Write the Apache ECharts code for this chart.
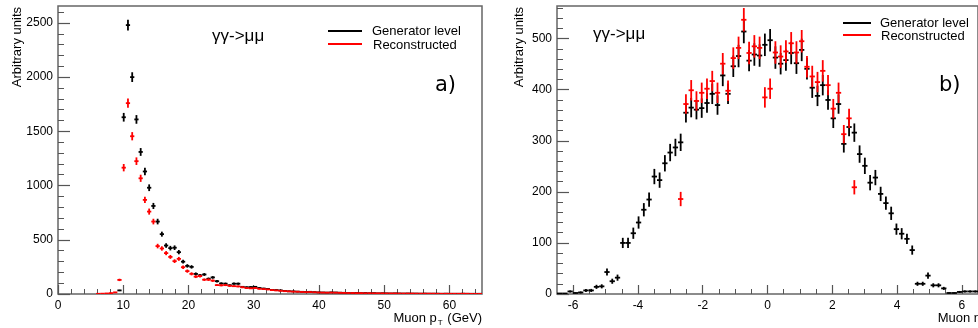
<!DOCTYPE html>
<html>
<head>
<meta charset="utf-8">
<script src="https://cdn.jsdelivr.net/npm/echarts@6/dist/echarts.min.js"></script>
<style>
html,body{margin:0;padding:0;background:#fff;}
#c{width:978px;height:328px;}
</style>
</head>
<body>
<div id="c"></div>
<script>
// ---------- binning ----------
const ptBinLow = 0, ptBinWidth = 0.65;      // 100 bins, 0..65 GeV
const etaBinLow = -6.5, etaBinWidth = 0.1625; // 80 bins, -6.5..6.5

// ---------- panel a: muon pT ----------
const ptGen = [
  0,0,0,0,0,0,0,0,0,0,
  0,0,0,0,33,1630,2480,2000,1610,1310,
  1130,980,812,668,552,447,423,427,386,298,
  259,250,185,172,180,140,153,118,97,95,
  80,95,95,66,62,64,66,55,50,46,
  38,36,33,28,25,24,22,20,18,20,
  17,15,14,13,15,14,12,11,10,9,
  10,8,9,7,8,6,7,6,5,6,
  5,4,5,4,4,3,4,3,3,3,
  2,3,2,2,2,3,2,2,2,2
];
const ptGenErr = [
  0,0,0,0,0,0,0,0,0,0,
  0,0,0,0,6,40,50,45,40,36,
  34,31,28,26,23,21,21,21,20,17,
  16,16,14,13,13,12,12,11,10,10,
  9,10,10,8,8,8,8,7,7,7,
  6,6,6,5,5,5,5,4,4,4,
  4,4,4,4,4,4,3,3,3,3,
  3,3,3,3,3,2,3,2,2,2,
  2,2,2,2,2,2,2,2,2,2,
  1,2,1,1,1,2,1,1,1,1
];
const ptReco = [
  0,0,0,0,0,0,0,0,0,2,
  3,5,8,15,130,1165,1760,1455,1225,1067,
  868,760,668,442,420,377,342,303,324,247,
  211,186,160,165,132,132,123,82,80,82,
  76,72,70,62,55,52,55,48,45,42,
  36,33,30,26,24,22,21,19,17,18,
  16,14,13,12,13,12,11,10,9,9,
  8,8,7,7,6,6,6,5,5,5,
  4,4,4,4,3,3,3,3,3,2,
  2,2,2,2,2,2,2,1,1,1
];
const ptRecoErr = [
  0,0,0,0,0,0,0,0,0,1,
  2,2,3,4,11,34,42,38,35,33,
  29,28,26,21,20,19,18,17,18,16,
  15,14,13,13,11,11,11,9,9,9,
  9,8,8,8,7,7,7,7,7,6,
  6,6,5,5,5,5,5,4,4,4,
  4,4,4,3,4,3,3,3,3,3,
  3,3,3,3,2,2,2,2,2,2,
  2,2,2,2,2,2,2,2,2,1,
  1,1,1,1,1,1,1,1,1,1
];

// ---------- panel b: muon eta ----------
const etaGen = [
  1,1,5,2,3,7,7,14,15,43,
  25,32,100,100,119,140,165,185,230,223,
  256,277,287,297,355,365,361,364,374,392,
  370,428,392,446,466,514,457,469,467,488,
  497,463,451,458,472,452,478,441,404,388,
  409,380,344,372,294,327,316,274,251,218,
  228,196,178,158,127,118,108,86,20,20,
  36,17,17,11,2,2,4,5,5,5
];
const etaGenErr = [
  1,1,2,1,2,3,3,4,4,7,
  5,6,10,10,11,12,13,14,15,15,
  16,17,17,17,19,19,19,19,19,20,
  19,21,20,21,22,23,21,22,22,22,
  22,22,21,21,22,21,22,21,20,20,
  20,19,19,19,17,18,18,17,16,15,
  15,14,13,13,11,11,10,9,4,4,
  6,4,4,3,1,1,2,2,2,2
];
const etaReco = [
  null,null,null,null,null,null,null,null,null,null,
  null,null,null,null,null,null,null,null,null,null,
  null,null,null,186,372,399,378,394,402,417,
  394,451,398,462,482,537,472,485,482,385,
  402,473,465,475,491,473,495,445,426,415,
  437,409,363,394,313,344,209,null,null,null,
  null,null,null,null,null,null,null,null,null,null,
  null,null,null,null,null,null,null,null,null,null
];
const etaRecoErr = [
  0,0,0,0,0,0,0,0,0,0,
  0,0,0,0,0,0,0,0,0,0,
  0,0,0,14,19,20,19,20,20,20,
  20,21,20,21,22,23,22,22,22,20,
  20,22,22,22,22,22,22,21,21,20,
  21,20,19,20,18,19,14,0,0,0,
  0,0,0,0,0,0,0,0,0,0,
  0,0,0,0,0,0,0,0,0,0
];

// ---------- ticks ----------
const ptMajorX = [0,10,20,30,40,50,60];
const ptMinorX = [2,4,6,8,12,14,16,18,22,24,26,28,32,34,36,38,42,44,46,48,52,54,56,58,62,64];
const ptMajorY = [0,500,1000,1500,2000,2500];
const ptMinorY = [100,200,300,400,600,700,800,900,1100,1200,1300,1400,1600,1700,1800,1900,2100,2200,2300,2400,2600];
const etaMajorX = [-6,-4,-2,0,2,4,6];
const etaMinorX = [-5.5,-5,-4.5,-3.5,-3,-2.5,-1.5,-1,-0.5,0.5,1,1.5,2.5,3,3.5,4.5,5,5.5];
const etaMajorY = [0,100,200,300,400,500];
const etaMinorY = [20,40,60,80,120,140,160,180,220,240,260,280,320,340,360,380,420,440,460,480,520,540,560];

const legendLabels = ['Generator level', 'Reconstructed'];
const processLabel = 'γγ->μμ';

// ---------- build ----------
function histData(vals, errs, low, width) {
  const out = [];
  vals.forEach((v, i) => {
    if (v === null || v <= 0) return;
    out.push([low + (i + 0.5) * width, v, errs[i], width / 2]);
  });
  return out;
}
function crossRenderer(color) {
  return function (params, api) {
    const x = api.value(0), y = api.value(1), e = api.value(2), hw = api.value(3);
    const pL = api.coord([x - hw, y]), pR = api.coord([x + hw, y]);
    const pT = api.coord([x, y + e]), pB = api.coord([x, Math.max(y - e, 0)]);
    const st = { stroke: color, lineWidth: 1.8 };
    return { type: 'group', children: [
      { type: 'line', shape: { x1: pL[0], y1: pL[1], x2: pR[0], y2: pR[1] }, style: st },
      { type: 'line', shape: { x1: pT[0], y1: pT[1], x2: pB[0], y2: pB[1] }, style: st }
    ]};
  };
}
const FONT = 'Liberation Sans, Arial, Helvetica, sans-serif';
const tickColor = '#555';
function majorAxis(grid, min, max, majors, len, isY) {
  return {
    type: 'value', gridIndex: grid, min: min, max: max,
    position: isY ? 'left' : 'bottom',
    axisLine: { show: false, onZero: false },
    splitLine: { show: false },
    axisTick: { show: true, inside: true, length: len, customValues: majors, lineStyle: { color: tickColor, width: 1.2 } },
    axisLabel: { show: true, customValues: majors, color: '#000', fontFamily: FONT, fontSize: 12, margin: isY ? 5 : 6,
      formatter: function (v) { return String(v); } }
  };
}
function minorAxis(grid, min, max, minors, len, isY) {
  return {
    type: 'value', gridIndex: grid, min: min, max: max,
    position: isY ? 'left' : 'bottom',
    axisLine: { show: false, onZero: false }, splitLine: { show: false },
    axisLabel: { show: false },
    axisTick: { show: true, inside: true, length: len, customValues: minors, lineStyle: { color: tickColor, width: 1 } }
  };
}

const chart = echarts.init(document.getElementById('c'), null, { renderer: 'canvas' });
const gridA = { left: 58, top: 6, width: 424, height: 288 };
const gridB = { left: 557, top: 6, width: 424, height: 288 };

const option = {
  animation: false,
  backgroundColor: '#fff',
  grid: [
    Object.assign({ show: true, borderColor: '#666', borderWidth: 1.5, backgroundColor: 'transparent' }, gridA),
    Object.assign({ show: true, borderColor: '#666', borderWidth: 1.5, backgroundColor: 'transparent' }, gridB)
  ],
  xAxis: [
    majorAxis(0, 0, 65, ptMajorX, 9, false),
    minorAxis(0, 0, 65, ptMinorX, 5, false),
    majorAxis(1, -6.5, 6.5, etaMajorX, 9, false),
    minorAxis(1, -6.5, 6.5, etaMinorX, 5, false)
  ],
  yAxis: [
    majorAxis(0, 0, 2656, ptMajorY, 12, true),
    minorAxis(0, 0, 2656, ptMinorY, 6, true),
    majorAxis(1, 0, 564, etaMajorY, 12, true),
    minorAxis(1, 0, 564, etaMinorY, 6, true)
  ],
  series: [
    { type: 'custom', name: legendLabels[0], xAxisIndex: 0, yAxisIndex: 0, clip: true,
      renderItem: crossRenderer('#000'), data: histData(ptGen, ptGenErr, ptBinLow, ptBinWidth) },
    { type: 'custom', name: legendLabels[1], xAxisIndex: 0, yAxisIndex: 0, clip: true,
      renderItem: crossRenderer('#ff0000'), data: histData(ptReco, ptRecoErr, ptBinLow, ptBinWidth) },
    { type: 'custom', name: legendLabels[0], xAxisIndex: 2, yAxisIndex: 2, clip: true,
      renderItem: crossRenderer('#000'), data: histData(etaGen, etaGenErr, etaBinLow, etaBinWidth) },
    { type: 'custom', name: legendLabels[1], xAxisIndex: 2, yAxisIndex: 2, clip: true,
      renderItem: crossRenderer('#ff0000'), data: histData(etaReco, etaRecoErr, etaBinLow, etaBinWidth) }
  ],
  graphic: [
    // axis titles
    { type: 'text', x: 17, y: 7, rotation: Math.PI / 2,
      style: { text: 'Arbitrary units', fontFamily: FONT, fontSize: 13, fill: '#000', align: 'right', verticalAlign: 'middle' } },
    { type: 'text', x: 519, y: 7, rotation: Math.PI / 2,
      style: { text: 'Arbitrary units', fontFamily: FONT, fontSize: 13, fill: '#000', align: 'right', verticalAlign: 'middle' } },
    { type: 'text', x: 482, y: 318,
      style: { text: '{a|Muon p}{s|T}{a| (GeV)}', fontFamily: FONT, fill: '#000', align: 'right', verticalAlign: 'middle',
        rich: { a: { fontFamily: FONT, fontSize: 13, fill: '#000' }, s: { fontFamily: FONT, fontSize: 8, fill: '#000', padding: [9, 1, 0, 1] } } } },
    { type: 'text', x: 981, y: 318,
      style: { text: 'Muon η', fontFamily: FONT, fontSize: 13, fill: '#000', align: 'right', verticalAlign: 'middle' } },
    // process labels
    { type: 'text', x: 212, y: 36,
      style: { text: processLabel, fontFamily: FONT, fontSize: 17, fill: '#000', align: 'left', verticalAlign: 'middle' } },
    { type: 'text', x: 593, y: 34,
      style: { text: processLabel, fontFamily: FONT, fontSize: 17, fill: '#000', align: 'left', verticalAlign: 'middle' } },
    // panel tags
    { type: 'text', x: 435, y: 86,
      style: { text: 'a)', fontFamily: 'DejaVu Sans', fontSize: 21, fill: '#000', align: 'left', verticalAlign: 'middle' } },
    { type: 'text', x: 939, y: 86,
      style: { text: 'b)', fontFamily: 'DejaVu Sans', fontSize: 21, fill: '#000', align: 'left', verticalAlign: 'middle' } },
    // legend a
    { type: 'line', shape: { x1: 328, y1: 31, x2: 362, y2: 31 }, style: { stroke: '#000', lineWidth: 2 } },
    { type: 'line', shape: { x1: 328, y1: 44, x2: 362, y2: 44 }, style: { stroke: '#ff0000', lineWidth: 2 } },
    { type: 'text', x: 372, y: 31,
      style: { text: legendLabels[0], fontFamily: FONT, fontSize: 13, fill: '#000', align: 'left', verticalAlign: 'middle' } },
    { type: 'text', x: 373, y: 45,
      style: { text: legendLabels[1], fontFamily: FONT, fontSize: 13, fill: '#000', align: 'left', verticalAlign: 'middle' } },
    // legend b
    { type: 'line', shape: { x1: 843, y1: 23, x2: 871, y2: 23 }, style: { stroke: '#000', lineWidth: 2 } },
    { type: 'line', shape: { x1: 843, y1: 35, x2: 871, y2: 35 }, style: { stroke: '#ff0000', lineWidth: 2 } },
    { type: 'text', x: 880, y: 23,
      style: { text: legendLabels[0], fontFamily: FONT, fontSize: 13, fill: '#000', align: 'left', verticalAlign: 'middle' } },
    { type: 'text', x: 881, y: 36,
      style: { text: legendLabels[1], fontFamily: FONT, fontSize: 13, fill: '#000', align: 'left', verticalAlign: 'middle' } }
  ]
};
chart.setOption(option);
</script>
</body>
</html>
